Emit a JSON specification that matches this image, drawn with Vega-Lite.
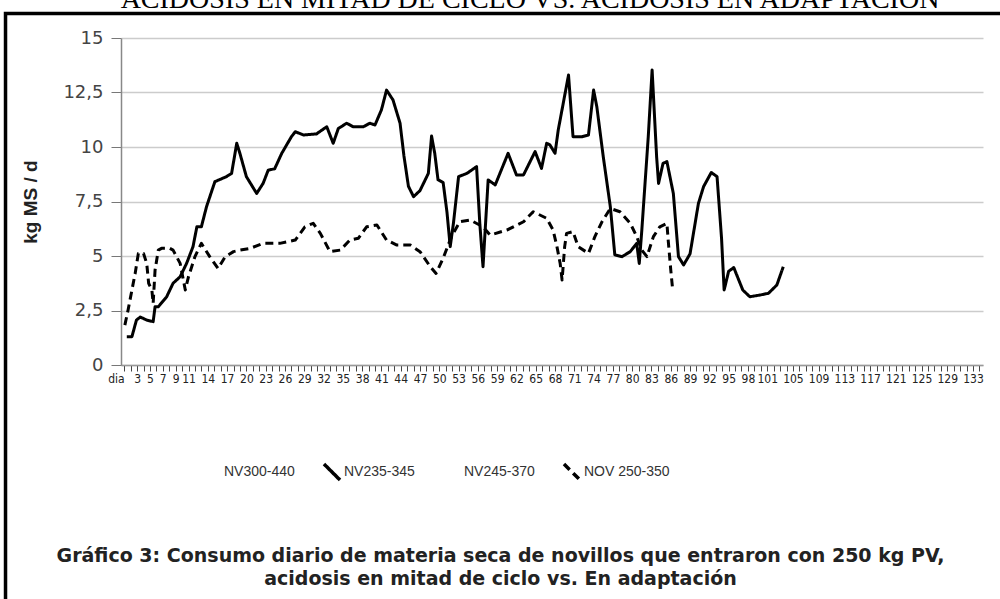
{
  "$schema": "https://vega.github.io/schema/vega-lite/v6.json",
  "width": 862,
  "height": 327,
  "autosize": {"type": "none"},
  "padding": {"left": 121, "top": 38, "right": 17, "bottom": 234},
  "background": "white",
  "title": {
    "text": "ACIDOSIS EN MITAD DE CICLO VS. ACIDOSIS EN ADAPTACIÓN",
    "font": "Liberation Serif",
    "fontSize": 28,
    "fontWeight": "normal",
    "color": "black",
    "anchor": "middle",
    "frame": "group",
    "dx": -22,
    "dy": 24,
    "offset": 0,
    "baseline": "alphabetic"
  },
  "config": {
    "view": {"stroke": null},
    "legend": {
      "symbolType": "M-1,-1L1,1",
      "symbolSize": 256,
      "symbolStrokeWidth": 3.5,
      "labelFont": "Liberation Sans",
      "labelFontSize": 14,
      "labelColor": "#333333",
      "labelOffset": 2,
      "columnPadding": 7,
      "gridAlign": "all",
      "labelLimit": 200
    }
  },
  "layer": [
    {
      "data": {
        "values": [
          {"serie": "NV235-345", "dia": 1.4, "kg": 1.3},
          {"serie": "NV235-345", "dia": 2.2, "kg": 1.3},
          {"serie": "NV235-345", "dia": 2.9, "kg": 2.06},
          {"serie": "NV235-345", "dia": 3.5, "kg": 2.2},
          {"serie": "NV235-345", "dia": 4.5, "kg": 2.06},
          {"serie": "NV235-345", "dia": 5.5, "kg": 1.99},
          {"serie": "NV235-345", "dia": 5.8, "kg": 2.67},
          {"serie": "NV235-345", "dia": 6.3, "kg": 2.67},
          {"serie": "NV235-345", "dia": 7.6, "kg": 3.13},
          {"serie": "NV235-345", "dia": 8.6, "kg": 3.75},
          {"serie": "NV235-345", "dia": 9.7, "kg": 4.05},
          {"serie": "NV235-345", "dia": 10.7, "kg": 4.66},
          {"serie": "NV235-345", "dia": 11.7, "kg": 5.43},
          {"serie": "NV235-345", "dia": 12.3, "kg": 6.34},
          {"serie": "NV235-345", "dia": 13.0, "kg": 6.34},
          {"serie": "NV235-345", "dia": 13.8, "kg": 7.26},
          {"serie": "NV235-345", "dia": 15.1, "kg": 8.41},
          {"serie": "NV235-345", "dia": 16.9, "kg": 8.64},
          {"serie": "NV235-345", "dia": 17.7, "kg": 8.79},
          {"serie": "NV235-345", "dia": 18.5, "kg": 10.17},
          {"serie": "NV235-345", "dia": 19.0, "kg": 9.7},
          {"serie": "NV235-345", "dia": 20.0, "kg": 8.64},
          {"serie": "NV235-345", "dia": 21.6, "kg": 7.87},
          {"serie": "NV235-345", "dia": 22.6, "kg": 8.33},
          {"serie": "NV235-345", "dia": 23.4, "kg": 8.94},
          {"serie": "NV235-345", "dia": 24.4, "kg": 9.0},
          {"serie": "NV235-345", "dia": 25.5, "kg": 9.71},
          {"serie": "NV235-345", "dia": 27.0, "kg": 10.47},
          {"serie": "NV235-345", "dia": 27.6, "kg": 10.7},
          {"serie": "NV235-345", "dia": 28.9, "kg": 10.55},
          {"serie": "NV235-345", "dia": 30.9, "kg": 10.6},
          {"serie": "NV235-345", "dia": 32.5, "kg": 10.93},
          {"serie": "NV235-345", "dia": 33.5, "kg": 10.17},
          {"serie": "NV235-345", "dia": 34.3, "kg": 10.85},
          {"serie": "NV235-345", "dia": 35.6, "kg": 11.09},
          {"serie": "NV235-345", "dia": 36.6, "kg": 10.93},
          {"serie": "NV235-345", "dia": 38.2, "kg": 10.93},
          {"serie": "NV235-345", "dia": 39.2, "kg": 11.09},
          {"serie": "NV235-345", "dia": 40.0, "kg": 11.01},
          {"serie": "NV235-345", "dia": 41.0, "kg": 11.7},
          {"serie": "NV235-345", "dia": 41.8, "kg": 12.61},
          {"serie": "NV235-345", "dia": 42.8, "kg": 12.16},
          {"serie": "NV235-345", "dia": 43.9, "kg": 11.09},
          {"serie": "NV235-345", "dia": 44.5, "kg": 9.6},
          {"serie": "NV235-345", "dia": 45.2, "kg": 8.2},
          {"serie": "NV235-345", "dia": 46.0, "kg": 7.72},
          {"serie": "NV235-345", "dia": 47.0, "kg": 8.0},
          {"serie": "NV235-345", "dia": 48.3, "kg": 8.79},
          {"serie": "NV235-345", "dia": 48.8, "kg": 10.5},
          {"serie": "NV235-345", "dia": 49.3, "kg": 9.7},
          {"serie": "NV235-345", "dia": 49.8, "kg": 8.5},
          {"serie": "NV235-345", "dia": 50.6, "kg": 8.37},
          {"serie": "NV235-345", "dia": 51.2, "kg": 7.0},
          {"serie": "NV235-345", "dia": 51.7, "kg": 5.43},
          {"serie": "NV235-345", "dia": 52.2, "kg": 6.5},
          {"serie": "NV235-345", "dia": 53.0, "kg": 8.64},
          {"serie": "NV235-345", "dia": 54.3, "kg": 8.79},
          {"serie": "NV235-345", "dia": 55.8, "kg": 9.1},
          {"serie": "NV235-345", "dia": 56.3, "kg": 6.5},
          {"serie": "NV235-345", "dia": 56.8, "kg": 4.51},
          {"serie": "NV235-345", "dia": 57.6, "kg": 8.49},
          {"serie": "NV235-345", "dia": 58.7, "kg": 8.26},
          {"serie": "NV235-345", "dia": 60.7, "kg": 9.71},
          {"serie": "NV235-345", "dia": 62.0, "kg": 8.72},
          {"serie": "NV235-345", "dia": 63.1, "kg": 8.72},
          {"serie": "NV235-345", "dia": 64.9, "kg": 9.79},
          {"serie": "NV235-345", "dia": 65.9, "kg": 9.02},
          {"serie": "NV235-345", "dia": 66.7, "kg": 10.17},
          {"serie": "NV235-345", "dia": 67.2, "kg": 10.1},
          {"serie": "NV235-345", "dia": 68.0, "kg": 9.71},
          {"serie": "NV235-345", "dia": 68.5, "kg": 10.78},
          {"serie": "NV235-345", "dia": 70.1, "kg": 13.3},
          {"serie": "NV235-345", "dia": 70.8, "kg": 10.47},
          {"serie": "NV235-345", "dia": 72.2, "kg": 10.47},
          {"serie": "NV235-345", "dia": 73.2, "kg": 10.55},
          {"serie": "NV235-345", "dia": 74.0, "kg": 12.61},
          {"serie": "NV235-345", "dia": 74.5, "kg": 11.85},
          {"serie": "NV235-345", "dia": 75.5, "kg": 9.56},
          {"serie": "NV235-345", "dia": 76.6, "kg": 7.26},
          {"serie": "NV235-345", "dia": 77.3, "kg": 5.05},
          {"serie": "NV235-345", "dia": 78.4, "kg": 4.97},
          {"serie": "NV235-345", "dia": 79.7, "kg": 5.2},
          {"serie": "NV235-345", "dia": 80.7, "kg": 5.58},
          {"serie": "NV235-345", "dia": 81.1, "kg": 4.66},
          {"serie": "NV235-345", "dia": 81.5, "kg": 6.19},
          {"serie": "NV235-345", "dia": 82.5, "kg": 10.47},
          {"serie": "NV235-345", "dia": 83.1, "kg": 13.53},
          {"serie": "NV235-345", "dia": 83.8, "kg": 9.56},
          {"serie": "NV235-345", "dia": 84.1, "kg": 8.33},
          {"serie": "NV235-345", "dia": 84.8, "kg": 9.25},
          {"serie": "NV235-345", "dia": 85.4, "kg": 9.33},
          {"serie": "NV235-345", "dia": 86.4, "kg": 7.87},
          {"serie": "NV235-345", "dia": 87.2, "kg": 4.97},
          {"serie": "NV235-345", "dia": 88.0, "kg": 4.59},
          {"serie": "NV235-345", "dia": 89.0, "kg": 5.1},
          {"serie": "NV235-345", "dia": 90.3, "kg": 7.41},
          {"serie": "NV235-345", "dia": 91.1, "kg": 8.18},
          {"serie": "NV235-345", "dia": 92.3, "kg": 8.83},
          {"serie": "NV235-345", "dia": 93.2, "kg": 8.64},
          {"serie": "NV235-345", "dia": 93.9, "kg": 5.8},
          {"serie": "NV235-345", "dia": 94.3, "kg": 3.44},
          {"serie": "NV235-345", "dia": 95.0, "kg": 4.3},
          {"serie": "NV235-345", "dia": 95.8, "kg": 4.47},
          {"serie": "NV235-345", "dia": 97.2, "kg": 3.44},
          {"serie": "NV235-345", "dia": 98.3, "kg": 3.13},
          {"serie": "NV235-345", "dia": 99.9, "kg": 3.21},
          {"serie": "NV235-345", "dia": 101.2, "kg": 3.29},
          {"serie": "NV235-345", "dia": 102.5, "kg": 3.67},
          {"serie": "NV235-345", "dia": 103.5, "kg": 4.51},
          {"serie": "NOV 250-350", "dia": 1.1, "kg": 1.83},
          {"serie": "NOV 250-350", "dia": 1.6, "kg": 2.52},
          {"serie": "NOV 250-350", "dia": 2.2, "kg": 3.44},
          {"serie": "NOV 250-350", "dia": 2.7, "kg": 4.2},
          {"serie": "NOV 250-350", "dia": 3.2, "kg": 5.12},
          {"serie": "NOV 250-350", "dia": 4.0, "kg": 5.12},
          {"serie": "NOV 250-350", "dia": 4.5, "kg": 4.66},
          {"serie": "NOV 250-350", "dia": 4.8, "kg": 3.75},
          {"serie": "NOV 250-350", "dia": 5.3, "kg": 3.44},
          {"serie": "NOV 250-350", "dia": 5.5, "kg": 2.83},
          {"serie": "NOV 250-350", "dia": 5.8, "kg": 4.36},
          {"serie": "NOV 250-350", "dia": 6.3, "kg": 5.27},
          {"serie": "NOV 250-350", "dia": 6.8, "kg": 5.35},
          {"serie": "NOV 250-350", "dia": 8.1, "kg": 5.35},
          {"serie": "NOV 250-350", "dia": 8.6, "kg": 5.27},
          {"serie": "NOV 250-350", "dia": 9.7, "kg": 4.66},
          {"serie": "NOV 250-350", "dia": 10.5, "kg": 3.44},
          {"serie": "NOV 250-350", "dia": 11.0, "kg": 4.05},
          {"serie": "NOV 250-350", "dia": 12.0, "kg": 4.97},
          {"serie": "NOV 250-350", "dia": 13.0, "kg": 5.58},
          {"serie": "NOV 250-350", "dia": 14.3, "kg": 4.97},
          {"serie": "NOV 250-350", "dia": 15.6, "kg": 4.43},
          {"serie": "NOV 250-350", "dia": 16.7, "kg": 4.97},
          {"serie": "NOV 250-350", "dia": 18.0, "kg": 5.2},
          {"serie": "NOV 250-350", "dia": 19.0, "kg": 5.27},
          {"serie": "NOV 250-350", "dia": 20.6, "kg": 5.35},
          {"serie": "NOV 250-350", "dia": 22.6, "kg": 5.58},
          {"serie": "NOV 250-350", "dia": 25.2, "kg": 5.58},
          {"serie": "NOV 250-350", "dia": 27.6, "kg": 5.73},
          {"serie": "NOV 250-350", "dia": 29.1, "kg": 6.34},
          {"serie": "NOV 250-350", "dia": 30.4, "kg": 6.5},
          {"serie": "NOV 250-350", "dia": 31.5, "kg": 6.04},
          {"serie": "NOV 250-350", "dia": 33.0, "kg": 5.2},
          {"serie": "NOV 250-350", "dia": 34.6, "kg": 5.27},
          {"serie": "NOV 250-350", "dia": 36.1, "kg": 5.73},
          {"serie": "NOV 250-350", "dia": 37.4, "kg": 5.81},
          {"serie": "NOV 250-350", "dia": 38.7, "kg": 6.34},
          {"serie": "NOV 250-350", "dia": 40.3, "kg": 6.42},
          {"serie": "NOV 250-350", "dia": 41.8, "kg": 5.73},
          {"serie": "NOV 250-350", "dia": 43.4, "kg": 5.5},
          {"serie": "NOV 250-350", "dia": 45.5, "kg": 5.5},
          {"serie": "NOV 250-350", "dia": 47.0, "kg": 5.2},
          {"serie": "NOV 250-350", "dia": 48.6, "kg": 4.51},
          {"serie": "NOV 250-350", "dia": 49.5, "kg": 4.2},
          {"serie": "NOV 250-350", "dia": 50.6, "kg": 4.9},
          {"serie": "NOV 250-350", "dia": 51.9, "kg": 5.89},
          {"serie": "NOV 250-350", "dia": 53.2, "kg": 6.57},
          {"serie": "NOV 250-350", "dia": 54.8, "kg": 6.65},
          {"serie": "NOV 250-350", "dia": 56.8, "kg": 6.34},
          {"serie": "NOV 250-350", "dia": 57.9, "kg": 5.96},
          {"serie": "NOV 250-350", "dia": 60.5, "kg": 6.19},
          {"serie": "NOV 250-350", "dia": 63.1, "kg": 6.57},
          {"serie": "NOV 250-350", "dia": 64.6, "kg": 7.03},
          {"serie": "NOV 250-350", "dia": 66.7, "kg": 6.73},
          {"serie": "NOV 250-350", "dia": 67.7, "kg": 6.19},
          {"serie": "NOV 250-350", "dia": 68.3, "kg": 5.43},
          {"serie": "NOV 250-350", "dia": 68.8, "kg": 4.66},
          {"serie": "NOV 250-350", "dia": 69.1, "kg": 3.9},
          {"serie": "NOV 250-350", "dia": 69.5, "kg": 5.43},
          {"serie": "NOV 250-350", "dia": 69.8, "kg": 6.04},
          {"serie": "NOV 250-350", "dia": 70.8, "kg": 6.12},
          {"serie": "NOV 250-350", "dia": 71.6, "kg": 5.43},
          {"serie": "NOV 250-350", "dia": 73.2, "kg": 5.12},
          {"serie": "NOV 250-350", "dia": 74.2, "kg": 5.89},
          {"serie": "NOV 250-350", "dia": 75.3, "kg": 6.57},
          {"serie": "NOV 250-350", "dia": 76.6, "kg": 7.18},
          {"serie": "NOV 250-350", "dia": 78.1, "kg": 7.03},
          {"serie": "NOV 250-350", "dia": 79.7, "kg": 6.5},
          {"serie": "NOV 250-350", "dia": 80.7, "kg": 5.89},
          {"serie": "NOV 250-350", "dia": 81.5, "kg": 5.27},
          {"serie": "NOV 250-350", "dia": 82.3, "kg": 4.97},
          {"serie": "NOV 250-350", "dia": 83.3, "kg": 5.89},
          {"serie": "NOV 250-350", "dia": 84.3, "kg": 6.34},
          {"serie": "NOV 250-350", "dia": 85.4, "kg": 6.5},
          {"serie": "NOV 250-350", "dia": 85.6, "kg": 5.73},
          {"serie": "NOV 250-350", "dia": 86.0, "kg": 4.36},
          {"serie": "NOV 250-350", "dia": 86.3, "kg": 3.44}
        ]
      },
      "mark": {"type": "line", "strokeWidth": 3, "strokeJoin": "round"},
      "encoding": {
        "x": {
          "field": "dia",
          "type": "quantitative",
          "scale": {"domain": [0.5, 134.56], "nice": false, "zero": false},
          "axis": {
            "values": [1,2,3,4,5,6,7,8,9,10,11,12,13,14,15,16,17,18,19,20,21,22,23,24,25,26,27,28,29,30,31,32,33,34,35,36,37,38,39,40,41,42,43,44,45,46,47,48,49,50,51,52,53,54,55,56,57,58,59,60,61,62,63,64,65,66,67,68,69,70,71,72,73,74,75,76,77,78,79,80,81,82,83,84,85,86,87,88,89,90,91,92,93,94,95,96,97,98,99,100,101,102,103,104,105,106,107,108,109,110,111,112,113,114,115,116,117,118,119,120,121,122,123,124,125,126,127,128,129,130,131,132,133,134],
            "tickCount": 1000,
            "format": "d",
            "labelExpr": "indexof([1,3,5,7,9,11,14,17,20,23,26,29,32,35,38,41,44,47,50,53,56,59,62,65,68,71,74,77,80,83,86,89,92,95,98,101,105,109,113,117,121,125,129,133], datum.value) >= 0 ? (datum.value == 1 ? 'dia' : datum.label) : ''",
            "labelAlign": {"condition": {"test": "datum.value == 1", "value": "right"}, "value": "center"},
            "grid": false,
            "tickSize": 6,
            "tickColor": "#444444",
            "tickWidth": 1,
            "domainColor": "#999999",
            "domainWidth": 1.5,
            "labelFont": "DejaVu Sans Condensed, Liberation Sans Narrow, DejaVu Sans",
            "labelFontSize": 12,
            "labelColor": "#222222",
            "labelPadding": 2,
            "labelOverlap": false,
            "labelFlush": false,
            "labelBound": false,
            "title": ["Gráfico 3: Consumo diario de materia seca de novillos que entraron con 250 kg PV,", "acidosis en mitad de ciclo vs. En adaptación"],
            "titleX": 379,
            "titleY": 196,
            "titleAlign": "center",
            "titleBaseline": "alphabetic",
            "titleFont": "DejaVu Sans",
            "titleFontSize": 19,
            "titleFontWeight": "bold",
            "titleColor": "#222222",
            "titleLineHeight": 23
          }
        },
        "y": {
          "field": "kg",
          "type": "quantitative",
          "scale": {"domain": [0, 15], "nice": false, "zero": false},
          "axis": {
            "values": [0, 2.5, 5, 7.5, 10, 12.5, 15],
            "labelExpr": "replace(format(datum.value, '.1~f'), '.', ',')",
            "grid": true,
            "gridColor": "#cccccc",
            "gridWidth": 1.5,
            "tickSize": 10,
            "tickColor": "#777777",
            "domainColor": "#888888",
            "domainWidth": 1.5,
            "labelFont": "DejaVu Sans",
            "labelFontSize": 18,
            "labelColor": "#444444",
            "labelPadding": 8,
            "title": "kg MS / d",
            "titleFont": "Liberation Sans",
            "titleFontSize": 19,
            "titleFontWeight": "bold",
            "titleColor": "#222222",
            "titleX": -91,
            "titleY": 163.5,
            "titleAngle": 270,
            "titleAlign": "center",
            "titleBaseline": "middle"
          }
        },
        "color": {
          "field": "serie",
          "type": "nominal",
          "scale": {
            "domain": ["NV300-440", "NV235-345", "NV245-370", "NOV 250-350"],
            "range": ["transparent", "black", "transparent", "black"]
          },
          "legend": {"title": null, "orient": "none", "legendX": 81, "legendY": 424, "direction": "horizontal", "columns": 4}
        },
        "strokeDash": {
          "field": "serie",
          "type": "nominal",
          "scale": {
            "domain": ["NV300-440", "NV235-345", "NV245-370", "NOV 250-350"],
            "range": [[1, 0], [1, 0], [1, 0], [8, 5]]
          },
          "legend": {"title": null, "orient": "none", "legendX": 81, "legendY": 424, "direction": "horizontal", "columns": 4}
        }
      }
    },
    {
      "data": {"values": [{}]},
      "mark": {"type": "rect", "fill": null, "stroke": "black", "strokeWidth": 3.5, "clip": false},
      "encoding": {
        "x": {"datum": -17.46, "type": "quantitative"},
        "x2": {"datum": 160},
        "y": {"datum": 16.12, "type": "quantitative"},
        "y2": {"datum": -12}
      }
    }
  ]
}
